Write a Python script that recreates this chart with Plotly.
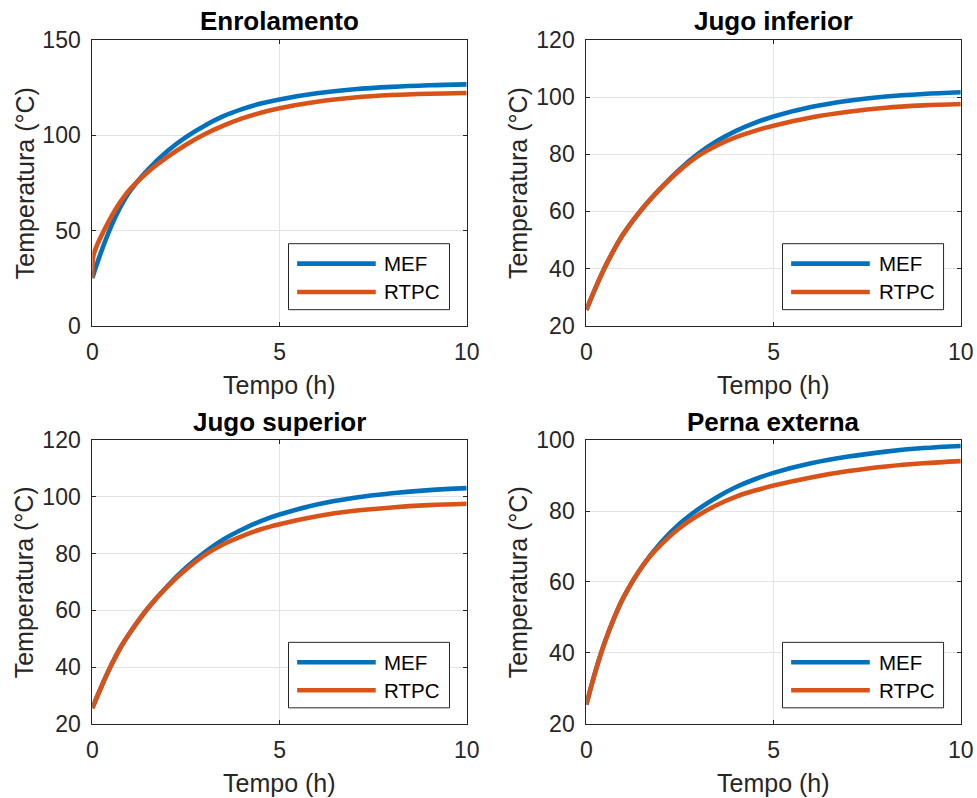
import plotly.graph_objects as go

# ---------------- data ----------------
titles = ["Enrolamento", "Jugo inferior", "Jugo superior", "Perna externa"]
series_names = ["MEF", "RTPC"]
colors = ["#0072BD", "#D95319"]

t_enr = [0, 0.02, 0.1, 0.25, 0.5, 0.75, 1, 1.5, 2, 2.5, 3, 3.5, 4, 4.5, 5, 6, 7, 8, 9, 10]
mef_enr = [25, 26.2, 31, 39.5, 52, 62.3, 70.5, 82.2, 91.6, 99, 105, 110, 113.7, 116.6, 118.8, 122, 124.1, 125.4, 126.2, 126.7]
rtpc_enr = [25, 36, 41, 47.5, 57, 65, 71.5, 81, 88.5, 95, 100.5, 105, 108.8, 111.8, 114.2, 117.6, 119.8, 121.1, 121.8, 122.2]

t_std = [0, 0.25, 0.5, 0.75, 1, 1.5, 2, 2.5, 3, 3.5, 4, 4.5, 5, 6, 7, 8, 9, 10]
mef_ji = [25.5, 33.3, 40.5, 46.8, 52.3, 61, 68.3, 74.8, 80.3, 84.7, 88.2, 91, 93.2, 96.5, 98.7, 100.2, 101.1, 101.7]
rtpc_ji = [25.5, 33.3, 40.5, 46.8, 52.3, 61, 68.2, 74.4, 79.5, 83.2, 86, 88.2, 90, 92.9, 94.9, 96.3, 97.1, 97.6]

mef_js = [25.5, 33.3, 40.5, 46.8, 52, 61, 68.5, 75, 80.5, 85, 88.5, 91.5, 93.8, 97.3, 99.7, 101.3, 102.4, 103.1]
rtpc_js = [25.5, 33.3, 40.5, 46.8, 52, 61, 68.3, 74.4, 79.5, 83.3, 86.2, 88.6, 90.4, 93.2, 95.1, 96.3, 97.1, 97.6]

mef_pe = [25.4, 35, 43.2, 50, 55.8, 64.5, 71.2, 76.5, 80.6, 84, 86.8, 89, 90.8, 93.5, 95.4, 96.8, 97.8, 98.4]
rtpc_pe = [25.4, 35, 43.2, 50, 55.8, 64.5, 70.6, 75.3, 78.9, 81.8, 84.1, 85.8, 87.2, 89.5, 91.3, 92.6, 93.5, 94.1]

times = [t_enr, t_std, t_std, t_std]
mef_all = [mef_enr, mef_ji, mef_js, mef_pe]
rtpc_all = [rtpc_enr, rtpc_ji, rtpc_js, rtpc_pe]

y_ranges = [[0, 150], [20, 120], [20, 120], [20, 100]]
y_dticks = [50, 20, 20, 20]
x_range = [0, 10]
x_dtick = 5

x_label = "Tempo (h)"
y_label = "Temperatura (°C)"

# ---------------- layout ----------------
FONT = "Liberation Sans, Arial, Helvetica, sans-serif"
AXC = "#262626"
GRID = "#E3E3E3"

x_domains = [[0.0945, 0.4777], [0.6001, 0.9834], [0.0945, 0.4777], [0.6001, 0.9834]]
y_domains = [[0.5919, 0.9499], [0.5919, 0.9499], [0.0931, 0.4483], [0.0931, 0.4483]]

fig = go.Figure()
annotations = []
shapes = []

for i in range(4):
    sfx = "" if i == 0 else str(i + 1)
    xa, ya = "x" + sfx, "y" + sfx
    for name, ys, col in zip(series_names, [mef_all[i], rtpc_all[i]], colors):
        fig.add_trace(go.Scatter(
            x=times[i], y=ys, mode="lines", name=name,
            line=dict(color=col, width=4.6, shape="spline", smoothing=1),
            xaxis=xa, yaxis=ya, showlegend=False, hoverinfo="skip"))

    common = dict(showline=True, linecolor=AXC, linewidth=1, mirror="ticks",
                  ticks="inside", ticklen=4, tickcolor=AXC, tickwidth=1,
                  showgrid=True, gridcolor=GRID, gridwidth=1, zeroline=False,
                  automargin=False,
                  tickfont=dict(family=FONT, size=23, color=AXC))
    fig.layout["xaxis" + sfx] = dict(common, domain=x_domains[i], range=x_range,
                                     dtick=x_dtick, tick0=0, anchor=ya,
                                     ticklabelstandoff=6)
    fig.layout["yaxis" + sfx] = dict(common, domain=y_domains[i], range=y_ranges[i],
                                     dtick=y_dticks[i], tick0=0, anchor=xa,
                                     ticklabelstandoff=6)

    xdr, ydr = xa + " domain", ya + " domain"
    # subplot title
    annotations.append(dict(text="<b>" + titles[i] + "</b>", x=0.5, y=1, xref=xdr, yref=ydr,
                            xanchor="center", yanchor="bottom", yshift=1.5, showarrow=False,
                            font=dict(family=FONT, size=26, color="#000000")))
    # x label
    annotations.append(dict(text=x_label, x=0.5, y=0, xref=xdr, yref=ydr,
                            xanchor="center", yanchor="top", yshift=-43, showarrow=False,
                            font=dict(family=FONT, size=25, color=AXC)))
    # y label
    annotations.append(dict(text=y_label, x=0, y=0.5, xref=xdr, yref=ydr, textangle=-90,
                            xanchor="center", yanchor="middle", xshift=-68, showarrow=False,
                            font=dict(family=FONT, size=25, color=AXC)))
    # legend box
    shapes.append(dict(type="rect", xref=xdr, yref=ydr, x0=0.524, x1=0.954, y0=0.056, y1=0.287,
                       line=dict(color=AXC, width=1), fillcolor="white", layer="above"))
    for name, col, yy in zip(series_names, colors, [0.217, 0.118]):
        shapes.append(dict(type="line", xref=xdr, yref=ydr, x0=0.547, x1=0.757, y0=yy, y1=yy,
                           line=dict(color=col, width=4.6), layer="above"))
        annotations.append(dict(text=name, x=0.775, y=yy, xref=xdr, yref=ydr,
                                xanchor="left", yanchor="middle", showarrow=False,
                                font=dict(family=FONT, size=20.5, color="#000000")))

fig.update_layout(
    width=977, height=798,
    margin=dict(l=0, r=0, t=0, b=0),
    paper_bgcolor="white", plot_bgcolor="white",
    annotations=annotations, shapes=shapes, showlegend=False,
)

fig.write_html("out.html")
